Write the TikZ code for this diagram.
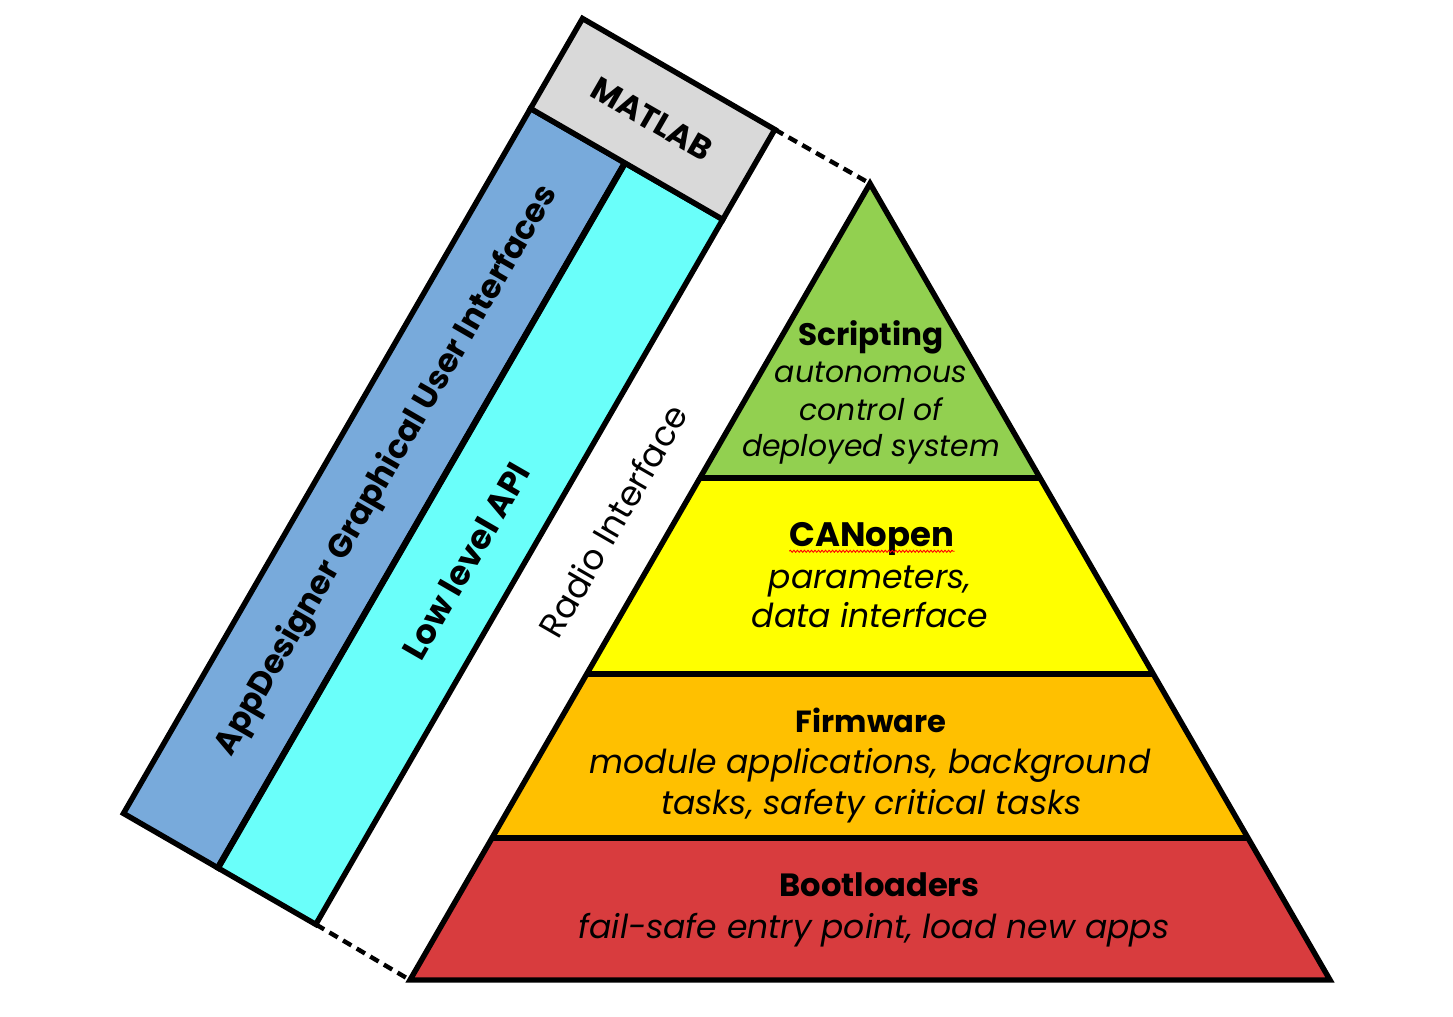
\documentclass[tikz,border=0pt]{standalone}
\usepackage{fontspec}
\setmainfont{Poppins}
\usetikzlibrary{calc,decorations.pathmorphing}
\definecolor{cgreen}{HTML}{92D050}
\definecolor{cyellow}{HTML}{FFFF00}
\definecolor{corange}{HTML}{FFC000}
\definecolor{cred}{HTML}{D83C3E}
\definecolor{cblue}{HTML}{78AADB}
\definecolor{ccyan}{HTML}{6AFFFA}
\definecolor{cgray}{HTML}{D9D9D9}
\newlength\appwordwidth
\begin{document}
\begin{tikzpicture}[x=0.02cm,y=-0.02cm,
  outline/.style={draw=black, line width=3.1pt, line join=miter},
  dashline/.style={draw=black, line width=2.5pt, dash pattern=on 5.5pt off 3.5pt},
  bodytext/.style={anchor=base, font=\itshape\fontsize{18.8}{20}\selectfont, inner sep=0pt},
  smallbody/.style={anchor=base, font=\itshape\fontsize{17}{20}\selectfont, inner sep=0pt},
  titletext/.style={anchor=base, inner sep=0pt},
  striptext/.style={rotate=60, inner sep=0pt},
  spell/.style={draw=red, line width=0.5pt, decorate, decoration={snake, segment length=2pt, amplitude=0.6pt}}]
\useasboundingbox (0,0) rectangle (1453,1017);
% strip corners
\coordinate (P0) at (582.5,18.5);
\coordinate (Q0) at (774.8,129.5);
\coordinate (P1) at (530.5,108.5);
\coordinate (D1) at (624.9,163);
\coordinate (Q1) at (722.8,219.5);
\coordinate (P2) at (123.5,813.4);
\coordinate (D2) at (217.9,867.9);
\coordinate (Q2) at (315.8,924.4);
% pyramid
\coordinate (A) at (870,183.5);
\coordinate (BL) at (410,980);
\coordinate (BR) at (1330,980);
\coordinate (L1) at ($(A)!0.3697!(BL)$);
\coordinate (R1) at ($(A)!0.3697!(BR)$);
\coordinate (L2) at ($(A)!0.6158!(BL)$);
\coordinate (R2) at ($(A)!0.6158!(BR)$);
\coordinate (L3) at ($(A)!0.8217!(BL)$);
\coordinate (R3) at ($(A)!0.8217!(BR)$);
% strips
\filldraw[outline, fill=cblue] (P1) -- (D1) -- (D2) -- (P2) -- cycle;
\filldraw[outline, fill=ccyan] (D1) -- (Q1) -- (Q2) -- (D2) -- cycle;
\draw[outline, line width=3.6pt] (D1) -- (D2);
\filldraw[outline, fill=cgray] (P0) -- (Q0) -- (Q1) -- (P1) -- cycle;
% pyramid layers
\fill[cgreen] (A) -- (R1) -- (L1) -- cycle;
\fill[cyellow] (L1) -- (R1) -- (R2) -- (L2) -- cycle;
\fill[corange] (L2) -- (R2) -- (R3) -- (L3) -- cycle;
\fill[cred] (L3) -- (R3) -- (BR) -- (BL) -- cycle;
\draw[outline] (L1) -- (R1);
\draw[outline] (L2) -- (R2);
\draw[outline] (L3) -- (R3);
\draw[outline] (A) -- (BR) -- (BL) -- cycle;
% dashed links
\draw[dashline] (Q0) -- (A);
\draw[dashline] (Q2) -- (BL);
% strip texts
\node[rotate=-30, font=\bfseries\fontsize{18.5}{20}\selectfont, inner sep=0pt] (matlab) at (652,119) {MATLAB};
\node[striptext, font=\bfseries\fontsize{18.6}{20}\selectfont] (gui) at (387,471) {AppDesigner Graphical User Interfaces};
\settowidth\appwordwidth{\bfseries\fontsize{18.6}{20}\selectfont AppDesigner}
\coordinate (gs) at ($(gui.base west)!2.5pt!-90:(gui.base east)$);
\coordinate (ge) at ($(gui.base east)!2.5pt!90:(gui.base west)$);
\draw[spell] (gs) -- ($(gs)!\appwordwidth!(ge)$);
\node[striptext, font=\bfseries\fontsize{19.2}{20}\selectfont] (api) at (466,561) {Low level API};
\node[striptext, font=\fontsize{19.6}{20}\selectfont] (radio) at (613,521) {Radio Interface};
% layer texts
\node[titletext, font=\bfseries\fontsize{17.7}{20}\selectfont] (scrT) at (871,345) {Scripting};
\node[smallbody] (scr1) at (871,382.7) {autonomous};
\node[smallbody] (scr2) at (871,420) {control of};
\node[smallbody] (scr3) at (871,456.7) {deployed system};
\node[titletext, font=\bfseries\fontsize{19.3}{20}\selectfont] (canT) at (872,546) {CANopen};
\draw[spell] ($(canT.base west)+(0pt,-3pt)$) -- ($(canT.base east)+(0pt,-3pt)$);
\node[bodytext] (can1) at (870,588) {parameters,};
\node[bodytext] (can2) at (870,627) {data interface};
\node[titletext, font=\bfseries\fontsize{17.4}{20}\selectfont] (fwT) at (871,732.7) {Firmware};
\node[bodytext] (fw1) at (870,773) {module applications, background};
\node[bodytext] (fw2) at (871.5,814) {tasks, safety critical tasks};
\node[titletext, font=\bfseries\fontsize{18.3}{20}\selectfont] (bootT) at (879.5,896.7) {Bootloaders};
\node[bodytext] (boot1) at (874,938.3) {fail-safe entry point, load new apps};
\end{tikzpicture}
\end{document}
